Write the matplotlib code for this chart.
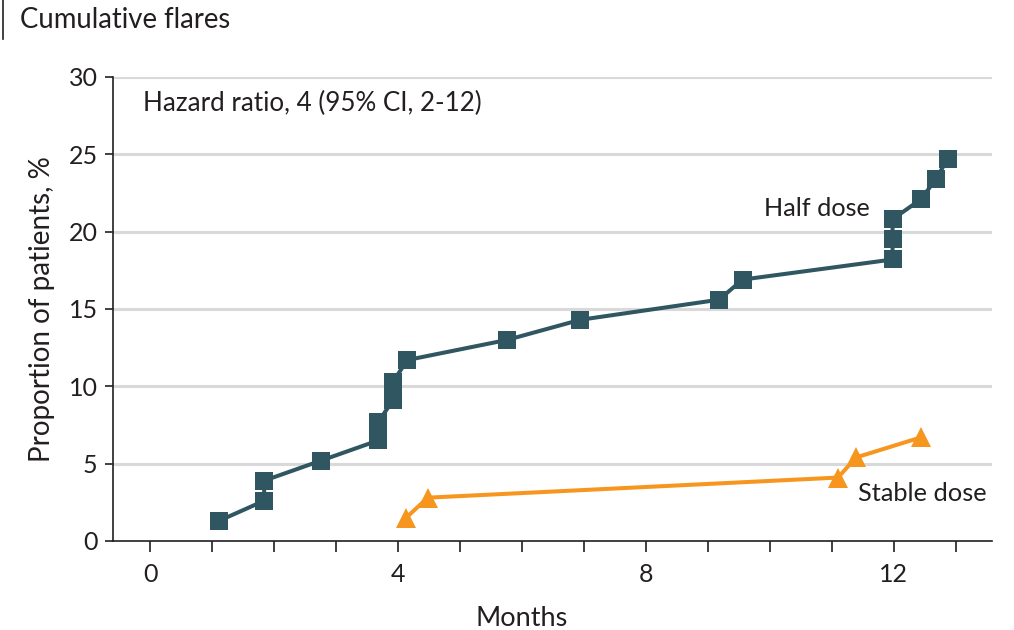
"""
Cumulative flares: half dose vs stable dose
"""
import numpy as np
import matplotlib
matplotlib.use('Agg')
import matplotlib.pyplot as plt
from matplotlib.lines import Line2D
from matplotlib.ticker import MultipleLocator

plt.rcParams['font.family'] = ['Lato', 'DejaVu Sans']

# Half dose (squares)
half_months = [1.11, 1.84, 1.84, 2.76, 3.68, 3.68, 3.92, 3.92, 4.15, 5.76, 6.94,
               9.18, 9.56, 11.98, 11.98, 11.98, 12.44, 12.68, 12.87]
half_pct = [1.3, 2.6, 3.9, 5.2, 6.5, 7.7, 9.1, 10.3, 11.7, 13.0, 14.3,
            15.6, 16.9, 18.2, 19.5, 20.8, 22.1, 23.4, 24.7]

# Stable dose (triangles)
stable_months = [4.13, 4.48, 11.1, 11.39, 12.44]
stable_pct = [1.5, 2.8, 4.1, 5.4, 6.7]

xticks = [0, 4, 8, 12]
yticks = [0, 5, 10, 15, 20, 25, 30]

teal = '#2f5661'
orange = '#f7961f'
grid_c = '#d9d9d9'
txt = '#231f20'

fig = plt.figure(figsize=(10.14, 6.30), dpi=100)
ax = fig.add_axes([0.1114, 0.1413, 0.978 - 0.1114, 0.8778 - 0.1413])

xmin, xmax = -0.6, 13.58
ax.set_xlim(xmin, xmax)
ax.set_ylim(0, 30)

for y in yticks[1:]:
    ax.axhline(y, color=grid_c, lw=2.2, zorder=0)

ax.plot(half_months, half_pct, '-', color=teal, lw=2.9, marker='s',
        markersize=13.5, markeredgewidth=0, zorder=3)
ax.plot(stable_months, stable_pct, '-', color=orange, lw=2.9, marker='^',
        markersize=15, markeredgewidth=0, zorder=3)

for s in ['top', 'right']:
    ax.spines[s].set_visible(False)
for s in ['left', 'bottom']:
    ax.spines[s].set_color(txt)
    ax.spines[s].set_linewidth(1.2)

ax.set_xticks(xticks)
ax.xaxis.set_minor_locator(MultipleLocator(1))
ax.set_yticks(yticks)
ax.tick_params(axis='x', which='both', direction='out', length=8, width=1.2,
               color=txt, pad=8, labelsize=18, labelcolor=txt)
ax.tick_params(axis='y', direction='out', length=6, width=1.2,
               color=txt, pad=5, labelsize=18, labelcolor=txt)

ax.set_xlabel('Months', fontsize=19.5, color=txt, labelpad=14)
ax.xaxis.label.set_x((6 - xmin) / (xmax - xmin))
ax.set_ylabel('Proportion of patients, %', fontsize=20, color=txt, labelpad=10)

ax.text(-0.12, 28.3, 'Hazard ratio, 4 (95% CI, 2-12)', fontsize=18.7, color=txt,
        ha='left', va='center')
ax.text(11.62, 21.5, 'Half dose', fontsize=18.2, color=txt, ha='right', va='center')
ax.text(11.42, 3.1, 'Stable dose', fontsize=18.3, color=txt, ha='left', va='center')

fig.text(20 / 1014, 1 - 20 / 630, 'Cumulative flares', fontsize=19.8, color=txt,
         ha='left', va='center')
fig.add_artist(Line2D([3 / 1014, 3 / 1014], [1, 1 - 39 / 630], color=txt, lw=1.2))

plt.savefig('out.png', dpi=100)
